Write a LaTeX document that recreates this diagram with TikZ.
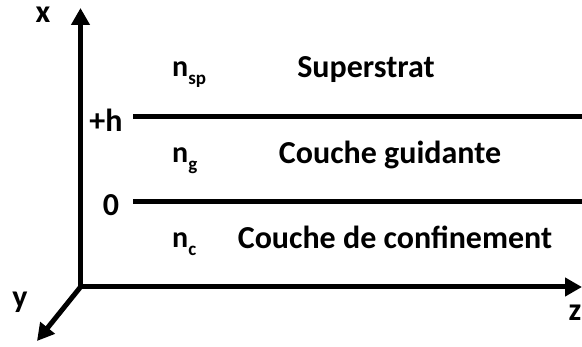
\documentclass[tikz,border=0pt]{standalone}
\usepackage{fontspec}
\setmainfont{Carlito}
\usetikzlibrary{arrows.meta}
\newcommand{\idxn}[1]{n\raisebox{-8pt}{\fontsize{19}{19}\selectfont #1}}
\begin{document}
\begin{tikzpicture}[x=1pt,y=-1pt,
  axis/.style={line width=5pt,-{Triangle[length=17pt,width=18pt]}},
  layer/.style={line width=5pt},
  lbl/.style={font=\bfseries\fontsize{32}{32}\selectfont,inner sep=0pt},
  idx/.style={font=\bfseries\fontsize{30}{30}\selectfont,inner sep=0pt}]
\useasboundingbox (0,0) rectangle (582,347);
\coordinate (O) at (80.5,287);
\coordinate (xt) at (80.5,8);
\coordinate (zt) at (582,287);
\coordinate (yt) at (37,341);
\draw[axis] (O) -- (xt);
\draw[axis] (O) -- (zt);
\draw[axis] (O) -- (yt);
\coordinate (h1) at (133,117);
\coordinate (h2) at (582,117);
\coordinate (z1) at (133,202);
\coordinate (z2) at (582,202);
\draw[layer] (h1) -- (h2);
\draw[layer] (z1) -- (z2);
\node[lbl] (xl) at (43,15) {x};
\node[lbl] (zl) at (575,313) {z};
\node[lbl] (yl) at (20,302) {y};
\node[lbl] (hl) at (106,120) {+h};
\node[lbl] (ol) at (111,205) {0};
\node[idx,anchor=base west] (nsp) at (172,77) {\idxn{sp}};
\node[idx,anchor=base west] (ng) at (172,163) {\idxn{g}};
\node[idx,anchor=base west] (nc) at (172,248) {\idxn{c}};
\node[lbl,anchor=base] (s1) at (366,78) {Superstrat};
\node[lbl,anchor=base] (s2) at (390,164) {Couche guidante};
\node[lbl,anchor=base] (s3) at (395,249) {Couche de confinement};
\end{tikzpicture}
\end{document}
